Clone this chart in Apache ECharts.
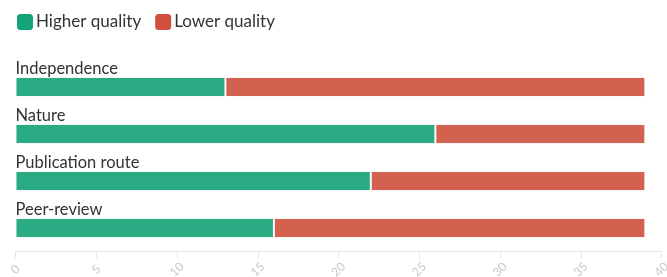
<!DOCTYPE html>
<html><head><meta charset="utf-8">
<script src="https://cdn.jsdelivr.net/npm/echarts@6/dist/echarts.min.js"></script>
<style>html,body{margin:0;padding:0;background:#fff}#c{width:667px;height:277px}</style>
</head><body><div id="c"></div>
<script>
var categories = ["Independence", "Nature", "Publication route", "Peer-review"];
var higherQuality = [13, 26, 22, 16];
var lowerQuality = [26, 13, 17, 23];
var seriesNames = ["Higher quality", "Lower quality"];
var xTicks = [0, 5, 10, 15, 20, 25, 30, 35, 40];

var chart = echarts.init(document.getElementById('c'));
var font = 'Lato';
chart.setOption({
  animation: false,
  textStyle: {fontFamily: font},
  legend: {
    left: 10, top: 7,
    itemWidth: 18, itemHeight: 18, itemGap: 12,
    icon: 'roundRect',
    itemStyle: {opacity: 1},
    textStyle: {fontFamily: font, fontSize: 17, color: '#333', padding: [0, 0, 0, -3]},
    data: seriesNames
  },
  grid: {left: 15.5, right: 5.5, top: 63.5, height: 188, containLabel: false, outerBoundsMode: 'none'},
  xAxis: {
    type: 'value', min: xTicks[0], max: xTicks[xTicks.length - 1], interval: 5,
    splitLine: {show: false},
    axisLine: {show: true, lineStyle: {color: '#e6e6e6'}},
    axisTick: {show: true, length: 7, lineStyle: {color: '#e6e6e6'}},
    axisLabel: {rotate: 45, align: 'center', verticalAlign: 'middle', color: '#c8c8c8',
      fontSize: 12, margin: 18, fontFamily: font, hideOverlap: false}
  },
  yAxis: {
    type: 'category', data: categories, inverse: true,
    axisLine: {show: false}, axisTick: {show: false},
    axisLabel: {inside: true, margin: 0, align: 'left', verticalAlign: 'bottom',
      padding: [0, 0, 10, 0], fontSize: 16.5, color: '#333', fontFamily: font},
    z: 10
  },
  series: [
    {name: seriesNames[0], type: 'bar', stack: 's', data: higherQuality, barWidth: 20,
     itemStyle: {color: '#14a277', opacity: 0.9, borderColor: '#fff', borderWidth: 1}},
    {name: seriesNames[1], type: 'bar', stack: 's', data: lowerQuality, barWidth: 20,
     itemStyle: {color: '#ce503d', opacity: 0.9, borderColor: '#fff', borderWidth: 1}}
  ]
});
</script></body></html>
